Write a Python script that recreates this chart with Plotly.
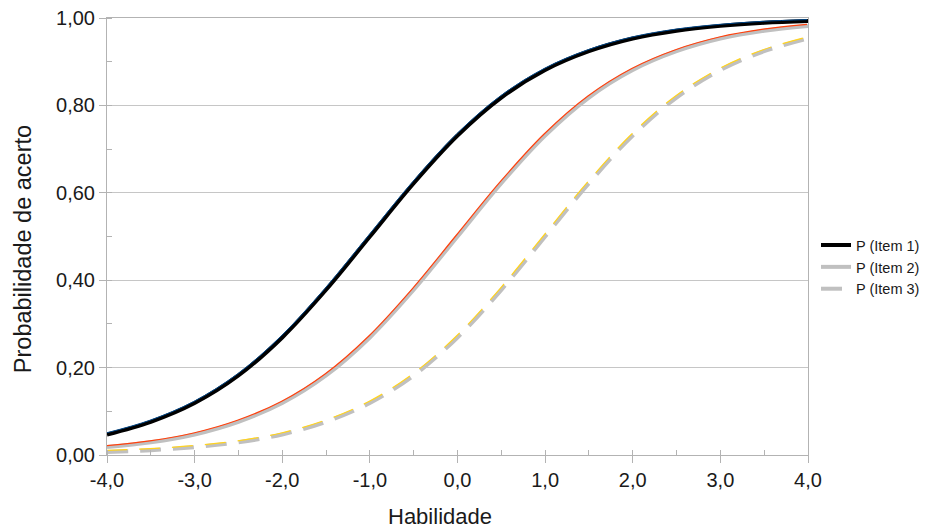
import plotly.graph_objects as go

# ---- data ----
theta = [-4.0, -3.5, -3.0, -2.5, -2.0, -1.5, -1.0, -0.5, 0.0,
         0.5, 1.0, 1.5, 2.0, 2.5, 3.0, 3.5, 4.0]
p_item1 = [0.047, 0.076, 0.119, 0.182, 0.269, 0.378, 0.500, 0.622, 0.731,
           0.818, 0.881, 0.924, 0.953, 0.971, 0.982, 0.989, 0.993]
p_item2 = [0.018, 0.029, 0.047, 0.076, 0.119, 0.182, 0.269, 0.378, 0.500,
           0.622, 0.731, 0.818, 0.881, 0.924, 0.953, 0.971, 0.982]
p_item3 = [0.007, 0.011, 0.018, 0.029, 0.047, 0.076, 0.119, 0.182, 0.269,
           0.378, 0.500, 0.622, 0.731, 0.818, 0.881, 0.924, 0.953]
series_names = ["P (Item 1)", "P (Item 2)", "P (Item 3)"]
x_title = "Habilidade"
y_title = "Probabilidade de acerto"

x_tick_vals = [-4, -3, -2, -1, 0, 1, 2, 3, 4]
x_tick_text = ["-4,0", "-3,0", "-2,0", "-1,0", "0,0", "1,0", "2,0", "3,0", "4,0"]
y_tick_vals = [0, 0.2, 0.4, 0.6, 0.8, 1.0]
y_tick_text = ["0,00", "0,20", "0,40", "0,60", "0,80", "1,00"]

FONT = "Liberation Sans, Arial, sans-serif"
TXT = "#1a1a1a"
GRID = "#c6c6c6"
AXIS = "#b3b3b3"

fig = go.Figure()

# thick main lines
fig.add_trace(go.Scatter(x=theta, y=p_item1, name=series_names[0], mode="lines",
                         line=dict(color="#000000", width=4, shape="spline")))
fig.add_trace(go.Scatter(x=theta, y=p_item2, name=series_names[1], mode="lines",
                         line=dict(color="#c0c0c0", width=4, shape="spline")))
fig.add_trace(go.Scatter(x=theta, y=p_item3, name=series_names[2], mode="lines",
                         line=dict(color="#c0c0c0", width=4, shape="spline", dash="21px,12px")))

# thin coloured lines drawn on a slightly shifted overlay axis pair
fig.add_trace(go.Scatter(x=theta, y=p_item1, mode="lines", showlegend=False, hoverinfo="skip",
                         xaxis="x2", yaxis="y2",
                         line=dict(color="#004586", width=1, shape="spline")))
fig.add_trace(go.Scatter(x=theta, y=p_item2, mode="lines", showlegend=False, hoverinfo="skip",
                         xaxis="x2", yaxis="y2",
                         line=dict(color="#ff420e", width=1.2, shape="spline")))
fig.add_trace(go.Scatter(x=theta, y=p_item3, mode="lines", showlegend=False, hoverinfo="skip",
                         xaxis="x2", yaxis="y2",
                         line=dict(color="#ffd320", width=1.2, shape="spline", dash="21px,12px")))

dy = 1.5 / 437.0
dx = 1.0 / 87.6

# the page adds an 8 px body margin, so margins are reduced on the left/top
fig.update_layout(
    width=927, height=530,
    margin=dict(l=99, r=127, t=10, b=83, autoexpand=False),
    paper_bgcolor="white", plot_bgcolor="white",
    separators=", ",
    font=dict(family=FONT, color=TXT),
    showlegend=True,
    legend=dict(x=1.0114, y=0.43, xanchor="left", yanchor="middle",
                font=dict(family=FONT, size=14.5, color=TXT),
                bgcolor="rgba(0,0,0,0)", borderwidth=0, tracegroupgap=0),
    xaxis=dict(range=[-4, 4], tickvals=x_tick_vals, ticktext=x_tick_text,
               automargin=False, ticklabeloverflow="allow",
               showgrid=False, zeroline=False,
               showline=True, linecolor=AXIS, linewidth=1, mirror=True,
               ticks="outside", ticklen=7, tickcolor=AXIS,
               minor=dict(dtick=0.5, ticks="inside", ticklen=5, tickcolor=AXIS, showgrid=False),
               tickfont=dict(family=FONT, size=20, color=TXT)),
    yaxis=dict(range=[0, 1], tickvals=y_tick_vals, ticktext=y_tick_text,
               automargin=False, ticklabeloverflow="allow",
               showgrid=True, gridcolor=GRID, gridwidth=1, zeroline=False,
               showline=True, linecolor=AXIS, linewidth=1, mirror=True,
               ticks="outside", ticklen=7, tickcolor=AXIS,
               minor=dict(dtick=0.1, ticks="inside", ticklen=5, tickcolor=AXIS, showgrid=False),
               tickfont=dict(family=FONT, size=20, color=TXT)),
    xaxis2=dict(overlaying="x", range=[-4 + dx, 4 + dx], visible=False),
    yaxis2=dict(overlaying="y", range=[0 - dy, 1 - dy], visible=False),
    annotations=[
        dict(text=x_title, xref="paper", yref="paper", x=0.475, y=0,
             xanchor="center", yanchor="middle", yshift=-61, showarrow=False,
             font=dict(family=FONT, size=22, color=TXT)),
        dict(text=y_title, xref="paper", yref="paper", x=0, y=0.471,
             xanchor="center", yanchor="middle", xshift=-84, textangle=-90, showarrow=False,
             font=dict(family=FONT, size=23.5, color=TXT)),
    ],
)

fig.write_html("out.html")
